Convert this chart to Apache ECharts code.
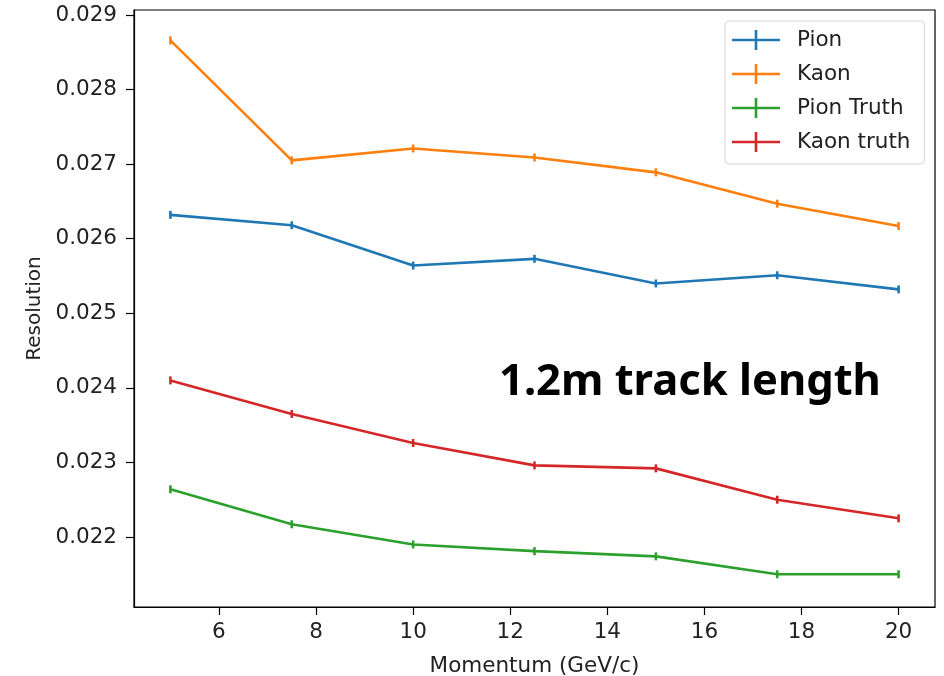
<!DOCTYPE html>
<html>
<head>
<meta charset="utf-8">
<script src="https://cdn.jsdelivr.net/npm/echarts@6/dist/echarts.min.js"></script>
<style>html,body{margin:0;padding:0;background:#fff}#c{width:944px;height:676px}</style>
</head>
<body>
<div id="c"></div>
<script>
const momentum = [5, 7.5, 10, 12.5, 15, 17.5, 20];
const pion = [0.02632, 0.02618, 0.02564, 0.02573, 0.02540, 0.02551, 0.02532];
const kaon = [0.02866, 0.02705, 0.02721, 0.02709, 0.02689, 0.02647, 0.02617];
const pionTruth = [0.02264, 0.02217, 0.02190, 0.02181, 0.02174, 0.02150, 0.02150];
const kaonTruth = [0.02410, 0.02365, 0.02326, 0.02296, 0.02292, 0.02250, 0.02225];
const seriesNames = ['Pion', 'Kaon', 'Pion Truth', 'Kaon truth'];
const xTicks = [6, 8, 10, 12, 14, 16, 18, 20];
const yTicks = [0.022, 0.023, 0.024, 0.025, 0.026, 0.027, 0.028, 0.029];
const colors = ['#1f77b4', '#ff7f0e', '#2ca02c', '#d62728'];
const annotation = '1.2m track length';

const all = [pion, kaon, pionTruth, kaonTruth];
const font = 'DejaVu Sans';
const fs = 21.5;
const chart = echarts.init(document.getElementById('c'));
const icon = 'path://M0,8.7h48v2.6h-48z M22.7,0h2.6v20h-2.6z';
chart.setOption({
  animation: false,
  color: colors,
  grid: { left: 134, right: 9, top: 10, bottom: 69, show: true, borderColor: '#000', borderWidth: 1.2, outerBoundsMode: 'none', containLabel: false },
  legend: {
    orient: 'vertical', left: 725, top: 21,
    data: seriesNames.map(n => ({ name: n, icon: icon })),
    itemWidth: 48, itemHeight: 20, itemGap: 12,
    padding: [8, 14, 11, 7],
    borderColor: '#d5d5d5', borderWidth: 1, borderRadius: 4,
    backgroundColor: 'rgba(255,255,255,0.8)',
    textStyle: { fontFamily: font, fontSize: fs, color: '#222', padding: [0, 0, 0, 12] }
  },
  xAxis: {
    type: 'value', min: 4.25, max: 20.75,
    name: 'Momentum (GeV/c)', nameLocation: 'middle', nameGap: 48,
    nameTextStyle: { fontFamily: font, fontSize: fs, color: '#222' },
    axisLine: { lineStyle: { color: '#000', width: 1.2 } },
    axisTick: { show: true, length: 8, lineStyle: { color: '#000', width: 1.2 }, customValues: xTicks },
    axisLabel: { fontFamily: font, fontSize: fs, color: '#222', margin: 14, customValues: xTicks },
    splitLine: { show: false }
  },
  yAxis: {
    type: 'value', min: 0.021061, max: 0.029067,
    name: 'Resolution', nameLocation: 'middle', nameGap: 89, nameRotate: 90,
    nameTextStyle: { fontFamily: font, fontSize: 20, color: '#222' },
    axisLine: { show: true, lineStyle: { color: '#000', width: 1.2 } },
    axisTick: { show: true, length: 8, lineStyle: { color: '#000', width: 1.2 }, customValues: yTicks },
    axisLabel: { fontFamily: font, fontSize: fs, color: '#222', margin: 17, customValues: yTicks, formatter: v => v.toFixed(3) },
    splitLine: { show: false }
  },
  graphic: [{
    type: 'text', left: 499, top: 361,
    style: { text: annotation, font: 'bold 43.5px "Noto Sans", sans-serif', fill: '#000' }
  }],
  series: all.map((d, i) => ({
    name: seriesNames[i], type: 'line',
    data: momentum.map((x, j) => [x, d[j]]),
    symbol: 'rect', symbolSize: [2.6, 8], showSymbol: true,
    lineStyle: { width: 2.6, color: colors[i] },
    itemStyle: { color: colors[i] }
  }))
});
</script>
</body>
</html>
